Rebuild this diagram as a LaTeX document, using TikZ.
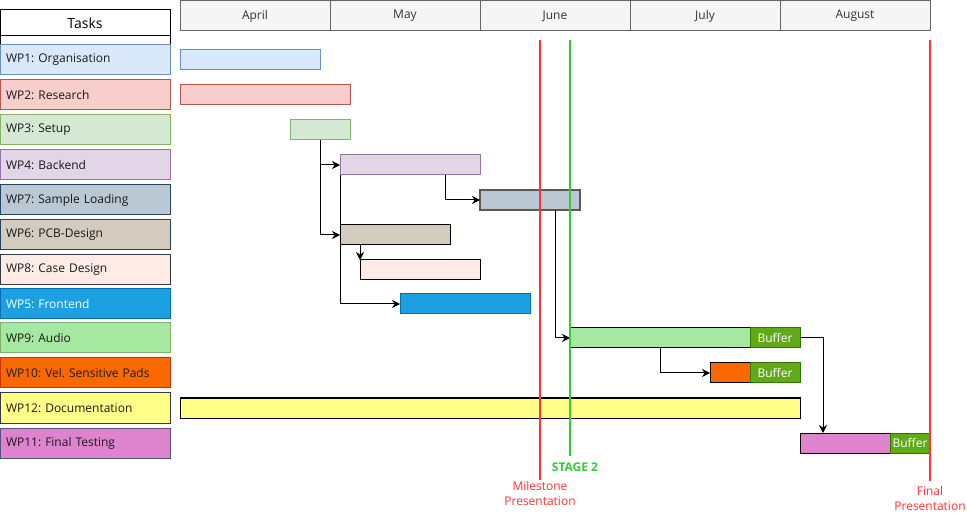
\documentclass[tikz,border=0pt]{standalone}
\usepackage{fontspec}
\setmainfont{Open Sans}
\frenchspacing
\usetikzlibrary{arrows.meta}
\definecolor{c1f}{HTML}{DAE8FC}\definecolor{c1s}{HTML}{6C8EBF}
\definecolor{c2f}{HTML}{F8CECC}\definecolor{c2s}{HTML}{B85450}
\definecolor{c3f}{HTML}{D5E8D4}\definecolor{c3s}{HTML}{82B366}
\definecolor{c4f}{HTML}{E1D5E7}\definecolor{c4s}{HTML}{9673A6}
\definecolor{c7f}{HTML}{BAC8D3}\definecolor{c7s}{HTML}{23445D}
\definecolor{c6f}{HTML}{D3CBBE}\definecolor{c6s}{HTML}{23445D}
\definecolor{c8f}{HTML}{FFEBE6}\definecolor{c8s}{HTML}{36393D}
\definecolor{c5f}{HTML}{1BA1E2}\definecolor{c5s}{HTML}{006EAF}
\definecolor{c9f}{HTML}{A5E8A0}\definecolor{c9s}{HTML}{82B366}
\definecolor{c10f}{HTML}{FA6800}\definecolor{c10s}{HTML}{C73500}
\definecolor{c12f}{HTML}{FFFF88}\definecolor{c12s}{HTML}{36393D}
\definecolor{c11f}{HTML}{E083CF}\definecolor{c11s}{HTML}{56517E}
\definecolor{buff}{HTML}{60A917}\definecolor{bufs}{HTML}{2D7600}
\definecolor{monf}{HTML}{F5F5F5}\definecolor{mons}{HTML}{666666}
\definecolor{mred}{HTML}{FF3333}\definecolor{mgreen}{HTML}{33CC33}
\definecolor{txt}{HTML}{1A1A1A}
\tikzset{
  taskbox/.style={draw, line width=1pt, anchor=north west, minimum height=30pt,
    text width=158pt, inner xsep=6pt, inner ysep=0pt, outer sep=0pt, align=left,
    font=\fontsize{12}{14}\selectfont, text=txt},
  bar/.style={draw, line width=1pt, anchor=north west, minimum height=20pt,
    inner sep=0pt, outer sep=0pt},
  buffer/.style={bar, fill=buff, draw=bufs, minimum width=50pt, text=white,
    font=\fontsize{12}{14}\selectfont},
  month/.style={draw=mons, fill=monf, line width=1pt, anchor=north west, minimum width=150pt,
    minimum height=30pt, inner sep=0pt, outer sep=0pt, text=black!80,
    font=\fontsize{12}{14}\selectfont},
  arr/.style={line width=1pt, -{Stealth[length=8pt,width=8pt]}},
  mline/.style={line width=2pt},
  mlabel/.style={align=center, inner sep=0pt}
}
\begin{document}
\begin{tikzpicture}[x=1pt,y=-1pt]
\useasboundingbox (0,0) rectangle (967,521);
% header
\node[draw, line width=1pt, anchor=north west, minimum width=170pt, minimum height=26pt, inner sep=0pt, outer sep=0pt, font=\fontsize{14}{16}\selectfont] (tasks) at (0,10) {Tasks};
\node[draw, line width=1pt, anchor=north west, minimum width=170pt, minimum height=9pt, inner sep=0pt, outer sep=0pt] (tasks2) at (0,36) {};
\node[month] (apr) at (180,1) {April};
\node[month] (may) at (330,1) {May};
\node[month] (jun) at (480,1) {June};
\node[month] (jul) at (630,1) {July};
\node[month] (aug) at (780,1) {August};
% task list
\node[taskbox, fill=c1f, draw=c1s] (t1) at (0,45) {WP1: Organisation};
\node[taskbox, fill=c2f, draw=c2s] (t2) at (0,80) {WP2: Research};
\node[taskbox, fill=c3f, draw=c3s] (t3) at (0,115) {WP3: Setup};
\node[taskbox, fill=c4f, draw=c4s] (t4) at (0,150) {WP4: Backend};
\node[taskbox, fill=c7f, draw=c7s] (t7) at (0,185) {WP7: Sample Loading};
\node[taskbox, fill=c6f, draw=c6s] (t6) at (0,220) {WP6: PCB-Design};
\node[taskbox, fill=c8f, draw=c8s] (t8) at (0,255) {WP8: Case Design};
\node[taskbox, fill=c5f, draw=c5s, text=white] (t5) at (0,289) {WP5: Frontend};
\node[taskbox, fill=c9f, draw=c9s] (t9) at (0,323) {WP9: Audio};
\node[taskbox, fill=c10f, draw=c10s] (t10) at (0,358) {WP10: Vel. Sensitive Pads};
\node[taskbox, fill=c12f, draw=c12s] (t12) at (0,393) {WP12: Documentation};
\node[taskbox, fill=c11f, draw=c11s] (t11) at (0,428) {WP11: Final Testing};
% bars
\node[bar, fill=c1f, draw=c1s, minimum width=140pt] (b1) at (180,50) {};
\node[bar, fill=c2f, draw=c2s, minimum width=170pt] (b2) at (180,85) {};
\node[bar, fill=c3f, draw=c3s, minimum width=60pt] (b3) at (290,120) {};
\node[bar, fill=c4f, draw=c4s, minimum width=140pt] (b4) at (340,155) {};
\node[bar, fill=c7f, draw=black!65, line width=1.4pt, minimum width=100pt] (b7) at (480,190) {};
\node[bar, fill=c6f, draw=black, minimum width=110pt] (b6) at (340,225) {};
\node[bar, fill=c8f, draw=black, minimum width=120pt] (b8) at (360,260) {};
\node[bar, fill=c5f, draw=c5s, minimum width=130pt] (b5) at (400,294) {};
\node[bar, fill=c9f, draw=black, minimum width=180pt] (b9) at (570,328) {};
\node[buffer] (u9) at (750,328) {Buffer};
\node[bar, fill=c10f, draw=black, minimum width=40pt] (b10) at (710,363) {};
\node[buffer] (u10) at (750,363) {Buffer};
\node[bar, fill=c12f, draw=black, minimum width=620pt] (b12) at (180,398) {};
\node[bar, fill=c11f, draw=black, minimum width=90pt] (b11) at (800,433) {};
\node[buffer, minimum width=40pt] (u11) at (890,433) {Buffer};
% connectors
\draw[arr] (b3.south) |- (b4.west);
\draw[arr] (b3.south) |- (b6.west);
\draw[arr] (b4.south west) |- (b5.west);
\draw[arr] ([xshift=35pt]b4.south) |- (b7.west);
\draw[arr] (b6.south -| b8.north west) -- (b8.north west);
\draw[arr] ([xshift=25pt]b7.south) |- (b9.west);
\draw[arr] (b9.south) |- (b10.west);
\draw[arr] (u9.east) -| ([xshift=23pt]b11.north west);
% milestones
\coordinate (m1t) at (540,40); \coordinate (m1b) at (540,480);
\coordinate (m2t) at (570,40); \coordinate (m2b) at (570,456);
\coordinate (m3t) at (930,40); \coordinate (m3b) at (930,481);
\draw[mline, mred] (m1t) -- (m1b);
\draw[mline, mgreen] (m2t) -- (m2b);
\draw[mline, mred] (m3t) -- (m3b);
\node[mlabel, text=mgreen, font=\fontsize{12}{15}\selectfont\bfseries, anchor=north] (l2) at (575,463) {STAGE 2};
\node[mlabel, text=mred, font=\fontsize{12}{15}\selectfont, anchor=north] (l1) at (540,481) {Milestone\\Presentation};
\node[mlabel, text=mred, font=\fontsize{12}{15}\selectfont, anchor=north] (l3) at (930,486) {Final\\Presentation};
\end{tikzpicture}
\end{document}
